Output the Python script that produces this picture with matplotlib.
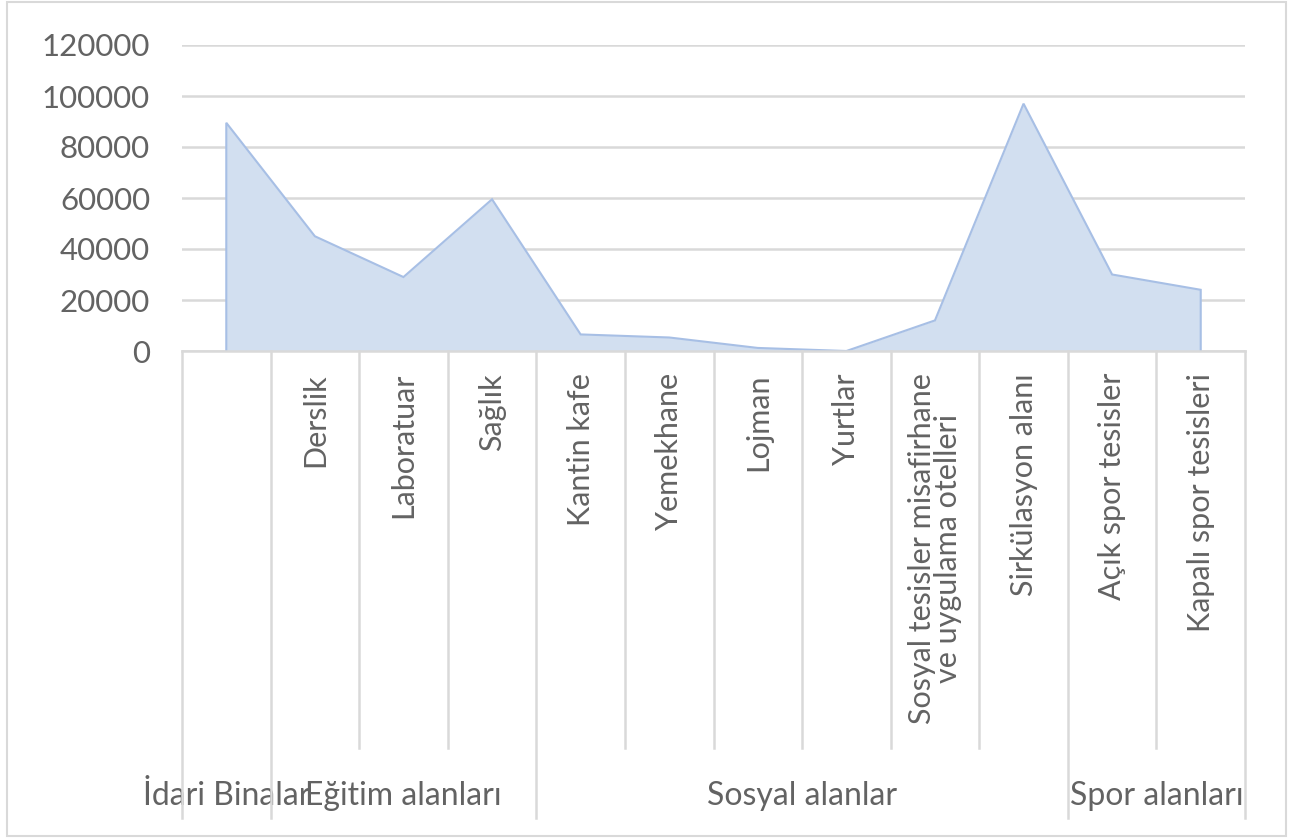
import numpy as np
import matplotlib.pyplot as plt
from matplotlib.patches import Rectangle, Polygon
from matplotlib.lines import Line2D
import matplotlib.transforms as mtransforms

plt.rcParams['font.family'] = ['Lato', 'DejaVu Sans']

# alan kullanimi (m2)
groups = ['İdari Binalar', 'Eğitim alanları', 'Sosyal alanlar', 'Spor alanları']
group_sizes = [1, 3, 6, 2]
categories = ['', 'Derslik', 'Laboratuar', 'Sağlık', 'Kantin kafe', 'Yemekhane',
              'Lojman', 'Yurtlar',
              'Sosyal tesisler misafirhane\nve uygulama otelleri',
              'Sirkülasyon alanı', 'Açık spor tesisler', 'Kapalı spor tesisleri']
values = [89500, 45000, 29000, 59500, 6500, 5300, 1200, 0, 12000, 97000, 30000, 24000]
yticks = [0, 20000, 40000, 60000, 80000, 100000, 120000]

W, H = 1290, 838
fig = plt.figure(figsize=(W / 100, H / 100), dpi=100)

grey_txt = '#636363'
grey_line = '#d9d9d9'

# outer chart border
fig.patches.append(Rectangle((7 / W, 1 - 836 / H), (1286 - 7) / W, (836 - 2) / H,
                             transform=fig.transFigure, fill=False,
                             edgecolor=grey_line, lw=1.5))

x0, x1 = 182, 1245
ytop, ybot = 45, 351
ax = fig.add_axes([x0 / W, 1 - ybot / H, (x1 - x0) / W, (ybot - ytop) / H])
n = len(values)
x = np.arange(n)
ax.set_xlim(-0.5, n - 0.5)
ax.set_ylim(0, 120000)

ax.fill_between(x, values, 0, color='#d2dff0', lw=0, zorder=2)
outline = np.column_stack([np.r_[x[0], x, x[-1]], np.r_[0, values, 0]])
ax.add_patch(Polygon(outline, closed=False, fill=False, edgecolor='#a7bfe5',
                     lw=1.5, zorder=3))

ax.set_yticks(yticks)
ax.set_yticklabels([str(v) for v in yticks], fontsize=22.5, color=grey_txt)
ax.tick_params(axis='y', length=0, pad=23)
ax.set_xticks([])
ax.grid(axis='y', color=grey_line, lw=1.8, zorder=1)
for s in ['left', 'right', 'top']:
    ax.spines[s].set_visible(False)
ax.spines['bottom'].set_color(grey_line)
ax.spines['bottom'].set_linewidth(1.8)
ax.spines['bottom'].set_zorder(4)

# category separators below the axis
trans = mtransforms.blended_transform_factory(ax.transData, fig.transFigure)
bounds = np.cumsum([0] + group_sizes) - 0.5
for b in np.arange(-0.5, n, 1.0):
    bottom = 818 if np.any(np.isclose(bounds, b)) else 748
    fig.add_artist(Line2D([b, b], [1 - ybot / H, 1 - bottom / H], transform=trans,
                          color=grey_line, lw=1.8))

for xi, lab in zip(x, categories):
    if lab:
        ax.text(xi, 1 - 373 / H, lab, transform=trans, rotation=90, ha='center',
                va='top', multialignment='center', fontsize=22, color=grey_txt,
                linespacing=0.95)

for g, (lo, hi) in zip(groups, zip(bounds[:-1], bounds[1:])):
    ax.text((lo + hi) / 2, 1 - 796 / H, g, transform=trans, ha='center',
            va='center', fontsize=23, color=grey_txt)

fig.savefig('out.png', dpi=100)
